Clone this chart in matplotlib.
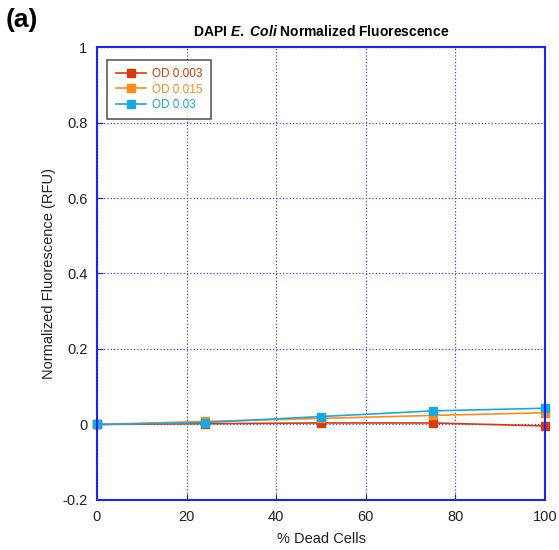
import matplotlib.pyplot as plt
from matplotlib.ticker import MultipleLocator

plt.rcParams['font.family'] = ['Liberation Sans', 'DejaVu Sans']
plt.rcParams['mathtext.fontset'] = 'custom'
plt.rcParams['mathtext.rm'] = 'Liberation Sans:bold'
plt.rcParams['mathtext.bf'] = 'Liberation Sans:bold'
plt.rcParams['mathtext.it'] = 'Liberation Sans:italic:bold'

dead_pct = [0, 24, 50, 75, 100]
od_0003 = [0.0, 0.002, 0.004, 0.004, -0.004]
od_0015 = [0.0, 0.008, 0.016, 0.024, 0.031]
od_003 = [0.0, 0.005, 0.021, 0.036, 0.043]

labels = ["OD 0.003", "OD 0.015", "OD 0.03"]
colors = ["#d83b0b", "#ff8c1a", "#19a9e0"]

fig = plt.figure(figsize=(5.59, 5.5), dpi=100)
ax = fig.add_axes([0.1735, 0.091, 0.8015, 0.8235])

for ys, lab, c in zip([od_0003, od_0015, od_003], labels, colors):
    ax.plot(dead_pct, ys, color=c, marker="s", markersize=6, lw=1.2, label=lab, clip_on=False)

ax.set_xlim(0, 100)
ax.set_ylim(-0.2, 1)
ax.xaxis.set_major_locator(MultipleLocator(20))
ax.yaxis.set_major_locator(MultipleLocator(0.2))
ax.set_yticklabels([f"{v:g}" for v in ax.get_yticks()])
ax.grid(True, color="#4444ee", linestyle=":", linewidth=0.9)
for s in ax.spines.values():
    s.set_color("#2222ee")
    s.set_linewidth(1.5)
ax.tick_params(direction="in", colors="#2222ee", labelcolor="#222222", labelsize=10.5, length=4, pad=7)

ax.set_xlabel("% Dead Cells", fontsize=10.5, color="#222222", labelpad=6)
ax.set_ylabel("Normalized Fluorescence (RFU)", fontsize=10.5, color="#222222")
ax.set_title(r"DAPI $\mathit{E.\ Coli}$ Normalized Fluorescence", fontsize=10, fontweight="bold", pad=8)

leg = ax.legend(loc="upper left", bbox_to_anchor=(0.01, 0.985), fancybox=False, edgecolor="#333333",
                fontsize=8.5, handlelength=2.6, handletextpad=0.5, borderpad=0.7, labelspacing=0.3,
                markerscale=0.85)
leg.get_frame().set_linewidth(1.2)
for t, c in zip(leg.get_texts(), colors):
    t.set_color(c)

fig.text(0.01, 0.985, "(a)", fontsize=19, fontweight="bold", va="top")

fig.savefig("out.png", dpi=100)
